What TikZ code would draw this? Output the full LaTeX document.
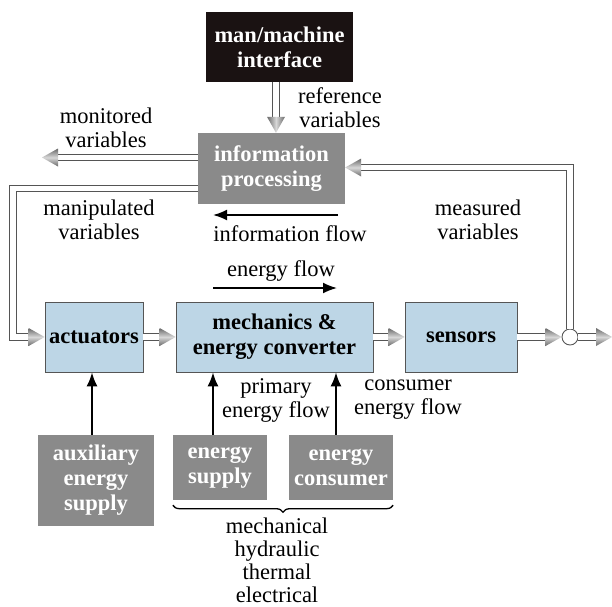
\documentclass[tikz,border=0pt]{standalone}
\usepackage{fontspec}
\setmainfont{Liberation Serif}
\usetikzlibrary{arrows.meta,decorations.pathreplacing,shadings}
\definecolor{boxgray}{RGB}{138,138,138}
\definecolor{boxblue}{RGB}{189,214,230}
\definecolor{boxblack}{RGB}{26,18,18}
\definecolor{edge}{RGB}{85,85,85}
\definecolor{tipdark}{RGB}{105,105,105}
\definecolor{tiplight}{RGB}{215,215,215}
\newcommand\tipE[1]{\shade[top color=tipdark, bottom color=tipdark, middle color=tiplight] (#1) -- ++(-16,-9) -- ++(0,18) -- cycle;}
\newcommand\tipW[1]{\shade[top color=tipdark, bottom color=tipdark, middle color=tiplight] (#1) -- ++(16,-9) -- ++(0,18) -- cycle;}
\newcommand\tipS[1]{\shade[left color=tipdark, right color=tipdark, middle color=tiplight] (#1) -- ++(-9,-16) -- ++(18,0) -- cycle;}
\begin{document}
\begin{tikzpicture}[x=1pt,y=-1pt,
  box/.style={inner sep=0pt, align=center, font=\fontsize{22.5}{25}\selectfont\bfseries},
  graybox/.style={box, fill=boxgray, text=white},
  bluebox/.style={box, fill=boxblue, draw=edge, line width=0.8pt},
  blackbox/.style={box, fill=boxblack, text=white},
  lbl/.style={align=center, inner sep=0pt, font=\fontsize{22.5}{24}\selectfont},
  dbl/.style={draw=edge, line width=0.9pt, double=white, double distance=5.5pt, shorten >=13pt},
  blk/.style={line width=1.8pt, -{Latex[length=14pt,width=11pt]}}]
\useasboundingbox (0,0) rectangle (612,606);
\fill[white] (0,0) rectangle (612,606);

% boxes
\node[blackbox, minimum width=147pt, minimum height=70pt] (mmi) at (279.5,47) {man/machine\\interface};
\node[graybox, minimum width=147pt, minimum height=71pt] (info) at (271.5,168.5) {information\\processing};
\node[bluebox, minimum width=98pt, minimum height=70pt] (act) at (94,337) {actuators};
\node[bluebox, minimum width=197pt, minimum height=70pt] (mech) at (274.5,337) {mechanics \&\\energy converter};
\node[bluebox, minimum width=112pt, minimum height=70pt] (sens) at (461,337) {sensors};
\node[graybox, minimum width=116pt, minimum height=91pt] (aux) at (96,480.5) {auxiliary\\energy\\supply};
\node[graybox, minimum width=94pt, minimum height=65pt] (esup) at (220,467.5) {energy\\supply};
\node[graybox, minimum width=104pt, minimum height=65pt] (econ) at (341,467.5) {energy\\consumer};
\node[circle, draw=edge, fill=white, line width=0.9pt, minimum size=16pt, inner sep=0pt] (circ) at (570,337) {};

% helper coordinates
\coordinate (r1) at ([xshift=-3.5pt]mmi.south);
\coordinate (r2) at (r1 |- info.north);
\coordinate (mon) at (42,157.5);
\coordinate (man) at (13,188.5);
\coordinate (meas) at (570,167.5);
\coordinate (out) at (612,337);
\coordinate (if1) at (338,215);
\coordinate (if2) at (213,215);
\coordinate (ef1) at (213,288);
\coordinate (ef2) at (337,288);
\coordinate (ax1) at ([xshift=-4pt]aux.north);
\coordinate (es1) at ([xshift=-7pt]esup.north);
\coordinate (ec1) at ([xshift=-5pt]econ.north);

% double-line signal arrows
\draw[dbl] (r1) -- (r2); \tipS{r2}
\draw[dbl] (info.west |- mon) -- (mon); \tipW{mon}
\draw[dbl] (info.west |- man) -- (man) |- (act.west); \tipE{act.west}
\draw[dbl] (act.east) -- (mech.west); \tipE{mech.west}
\draw[dbl] (mech.east) -- (sens.west); \tipE{sens.west}
\draw[dbl] (sens.east) -- (circ.west); \tipE{circ.west}
\draw[dbl] (circ.east) -- (out); \tipE{out}
\draw[dbl] (circ.north) -- (meas) -- (info.east |- meas); \tipW{info.east |- meas}

% black arrows
\draw[blk] (if1) -- (if2);
\draw[blk] (ef1) -- (ef2);
\draw[blk] (ax1) -- (ax1 |- act.south);
\draw[blk] (es1) -- (es1 |- mech.south);
\draw[blk] (ec1) -- (ec1 |- mech.south);

% brace
\draw[line width=1.3pt, decorate, decoration={brace, amplitude=7pt, mirror}] ([yshift=-5pt]esup.south west) -- ([yshift=-5pt]econ.south east);

% labels
\node[lbl] (lref) at (340,108) {reference\\variables};
\node[lbl] (lmon) at (106,128) {monitored\\variables};
\node[lbl] (lman) at (99,220) {manipulated\\variables};
\node[lbl] (lmeas) at (478,220) {measured\\variables};
\node[lbl] (linf) at (290,234) {information flow};
\node[lbl] (lenf) at (281,271) {energy flow};
\node[lbl] (lprim) at (276,400) {primary\\energy flow};
\node[lbl] (lcons) at (408,400) {consumer\\energy flow};
\node[lbl, font=\fontsize{22.5}{23}\selectfont] (lkinds) at (277,560) {mechanical\\hydraulic\\thermal\\electrical};
\end{tikzpicture}
\end{document}
